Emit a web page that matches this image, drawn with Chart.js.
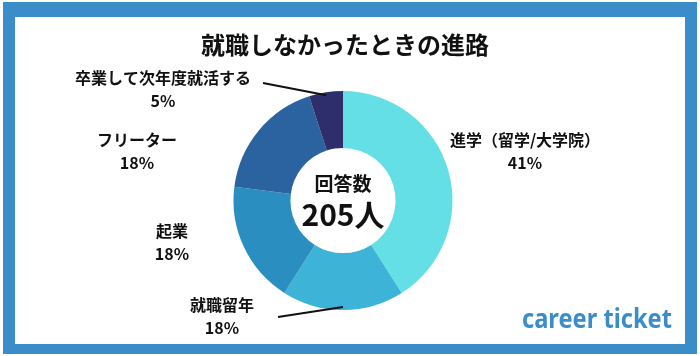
<!DOCTYPE html>
<html>
<head>
<meta charset="utf-8">
<script src="https://cdn.jsdelivr.net/npm/chart.js@4"></script>
<style>
  html, body { margin: 0; padding: 0; background: #ffffff; }
  #wrap { width: 700px; height: 356px; }
</style>
</head>
<body>
<div id="wrap"><canvas id="chart" width="700" height="356"></canvas></div>
<script>
// 就職しなかったときの進路 (回答数 205人)
const labels = ['進学（留学/大学院）', '就職留年', '起業', 'フリーター', '卒業して次年度就活する'];
const percents = [41, 18, 18, 18, 5];
const colors = ['#63dfe5', '#3cb3d7', '#2b8ec1', '#2b62a0', '#2f2e6c'];
const title = '就職しなかったときの進路';
const centerTop = '回答数';
const centerMain = '205人';

const FONT = '"Noto Sans CJK JP", "Noto Sans", sans-serif';

// where each outside label sits and whether it gets a leader line
const labelPos = [
  { x: 525, y: 140, line: null },
  { x: 222, y: 305, line: [278, 317] },
  { x: 172, y: 231, line: null },
  { x: 137, y: 140, line: null },
  { x: 163, y: 78, line: [263, 83] }
];

const framePlugin = {
  id: 'frame',
  beforeDraw(chart) {
    const ctx = chart.ctx;
    ctx.save();
    ctx.fillStyle = '#ffffff';
    ctx.fillRect(0, 0, 700, 356);
    ctx.fillStyle = '#3b8dca';
    ctx.fillRect(3, 2, 694, 352);
    ctx.fillStyle = '#ffffff';
    ctx.fillRect(15, 17, 670, 327);
    ctx.restore();
  }
};

const textPlugin = {
  id: 'texts',
  afterDraw(chart) {
    const ctx = chart.ctx;
    const meta = chart.getDatasetMeta(0);
    ctx.save();
    ctx.textAlign = 'center';
    ctx.textBaseline = 'middle';
    ctx.fillStyle = '#111111';

    // title
    ctx.font = 'bold 24px ' + FONT;
    ctx.fillText(title, 345, 45);

    // center text
    const arc0 = meta.data[0];
    ctx.font = 'bold 19px ' + FONT;
    ctx.fillText(centerTop, arc0.x, 184);
    ctx.font = 'bold 30px ' + FONT;
    ctx.fillText(centerMain, arc0.x, 215);

    // outside labels
    meta.data.forEach((arc, i) => {
      const p = labelPos[i];
      ctx.fillStyle = '#111111';
      ctx.font = 'bold 16px ' + FONT;
      ctx.fillText(labels[i], p.x, p.y);
      ctx.fillText(percents[i] + '%', p.x, p.y + 23);
      if (p.line) {
        const mid = (arc.startAngle + arc.endAngle) / 2;
        const r = arc.outerRadius - 3;
        ctx.strokeStyle = '#111111';
        ctx.lineWidth = 2;
        ctx.beginPath();
        ctx.moveTo(p.line[0], p.line[1]);
        ctx.lineTo(arc.x + Math.cos(mid) * r, arc.y + Math.sin(mid) * r);
        ctx.stroke();
      }
    });

    // logo
    ctx.fillStyle = '#3b8dca';
    ctx.font = 'bold 26px "Noto Sans", sans-serif';
    ctx.textAlign = 'left';
    ctx.fillText('career ticket', 522, 321, 150);
    ctx.restore();
  }
};

new Chart(document.getElementById('chart'), {
  type: 'doughnut',
  data: {
    labels: labels,
    datasets: [{
      data: percents,
      backgroundColor: colors,
      borderWidth: 0
    }]
  },
  options: {
    responsive: false,
    animation: false,
    devicePixelRatio: 1,
    cutout: '48%',
    layout: { padding: { left: 233, right: 247, top: 91, bottom: 46 } },
    plugins: {
      legend: { display: false },
      tooltip: { enabled: false },
      title: { display: false }
    }
  },
  plugins: [framePlugin, textPlugin]
});
</script>
</body>
</html>
